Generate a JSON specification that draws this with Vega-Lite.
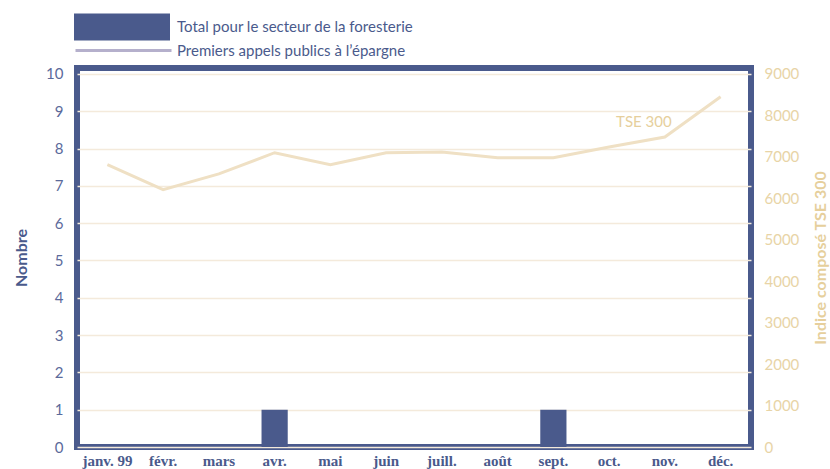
{
  "$schema": "https://vega.github.io/schema/vega-lite/v6.json",
  "width": 674,
  "height": 379,
  "autosize": {"type": "none"},
  "padding": {"left": 77, "top": 68, "right": 79, "bottom": 22},
  "background": "#ffffff",
  "config": {
    "view": {"stroke": "#4a5a8c", "strokeWidth": 6},
    "font": "Lato",
    "axis": {"domain": false, "ticks": false, "labelFont": "Lato", "titleFont": "Lato"},
    "legend": {"labelFont": "Lato", "padding": 0, "labelLimit": 500}
  },
  "data": {
    "values": [
      {"month": "janv. 99", "count": 0, "ipo": 0, "tse": 6810},
      {"month": "févr.", "count": 0, "ipo": 0, "tse": 6210},
      {"month": "mars", "count": 0, "ipo": 0, "tse": 6590},
      {"month": "avr.", "count": 1, "ipo": 0, "tse": 7100},
      {"month": "mai", "count": 0, "ipo": 0, "tse": 6810},
      {"month": "juin", "count": 0, "ipo": 0, "tse": 7100},
      {"month": "juill.", "count": 0, "ipo": 0, "tse": 7120},
      {"month": "août", "count": 0, "ipo": 0, "tse": 6980},
      {"month": "sept.", "count": 1, "ipo": 0, "tse": 6980},
      {"month": "oct.", "count": 0, "ipo": 0, "tse": 7240},
      {"month": "nov.", "count": 0, "ipo": 0, "tse": 7480},
      {"month": "déc.", "count": 0, "ipo": 0, "tse": 8450}
    ]
  },
  "encoding": {
    "x": {
      "field": "month", "type": "ordinal", "sort": null,
      "scale": {"paddingInner": 0.53, "paddingOuter": 0.31},
      "axis": {
        "title": null, "labelAngle": 0, "labelFont": "Liberation Sans Narrow",
        "labelFontWeight": "bold", "labelFontSize": 15, "labelColor": "#4a5a8c",
        "labelPadding": 6, "grid": false
      }
    }
  },
  "layer": [
    {
      "layer": [
        {
          "mark": {"type": "bar"},
          "encoding": {
            "y": {
              "field": "count", "type": "quantitative",
              "scale": {"domain": [0, 10.16], "nice": false},
              "axis": {
                "title": "Nombre", "values": [0,1,2,3,4,5,6,7,8,9,10],
                "labelColor": "#5b6a9b", "labelFontSize": 15, "labelPadding": 14,
                "titleColor": "#4a5a8c", "titleFontSize": 16, "titleFontWeight": "bold",
                "titlePadding": 16, "grid": true, "gridColor": "#f4eadb", "gridWidth": 1.5
              }
            },
            "fill": {
              "datum": "Total pour le secteur de la foresterie",
              "scale": {"range": ["#4a5a8c"]},
              "legend": {
                "title": null, "orient": "none", "legendX": -3, "legendY": -89,
                "symbolType": "M-1,-0.28H1V0.28H-1Z", "symbolSize": 9216,
                "symbolStrokeWidth": 0, "labelFontSize": 15, "labelColor": "#4a5a8c",
                "labelOffset": 7
              }
            }
          }
        },
        {
          "mark": {"type": "line", "opacity": 0, "strokeWidth": 3},
          "encoding": {
            "x": {"field": "month", "type": "ordinal", "sort": null, "bandPosition": 0.5},
            "y": {
              "field": "ipo", "type": "quantitative",
              "scale": {"domain": [0, 10.16], "nice": false},
              "axis": {
                "title": "Nombre", "values": [0,1,2,3,4,5,6,7,8,9,10],
                "labelColor": "#5b6a9b", "labelFontSize": 15, "labelPadding": 14,
                "titleColor": "#4a5a8c", "titleFontSize": 16, "titleFontWeight": "bold",
                "titlePadding": 16, "grid": true, "gridColor": "#f4eadb", "gridWidth": 1.5
              }
            },
            "stroke": {
              "datum": "Premiers appels publics à l’épargne",
              "scale": {"range": ["#b5b0cc"]},
              "legend": {
                "title": null, "orient": "none", "legendX": -3, "legendY": -67,
                "symbolType": "stroke", "symbolSize": 9216, "symbolStrokeWidth": 3,
                "symbolOpacity": 1, "labelFontSize": 15, "labelColor": "#4a5a8c",
                "labelOffset": 4
              }
            }
          }
        }
      ]
    },
    {
      "layer": [
        {
          "mark": {"type": "line", "color": "#efe0c4", "strokeWidth": 3},
          "encoding": {
            "x": {"field": "month", "type": "ordinal", "sort": null, "bandPosition": 0.5},
            "y": {
              "field": "tse", "type": "quantitative",
              "scale": {"domain": [0, 9144], "nice": false},
              "axis": {
                "orient": "right", "title": "Indice composé TSE 300",
                "values": [0,1000,2000,3000,4000,5000,6000,7000,8000,9000],
                "format": "d",
                "labelColor": "#e8d4a6", "labelFontSize": 15, "labelPadding": 13,
                "titleColor": "#e6cf9c", "titleFontSize": 16, "titleFontWeight": "bold",
                "titleAngle": 270, "titleBaseline": "bottom", "titlePadding": 30, "grid": false
              }
            }
          }
        },
        {
          "data": {"values": [{"month": "nov.", "tse": 7840, "label": "TSE 300"}]},
          "mark": {"type": "text", "color": "#e6cf9c", "fontSize": 15, "dx": -21, "baseline": "middle"},
          "encoding": {
            "x": {"field": "month", "type": "ordinal", "sort": null, "bandPosition": 0.5},
            "y": {"field": "tse", "type": "quantitative"},
            "text": {"field": "label"}
          }
        }
      ]
    }
  ],
  "resolve": {"scale": {"y": "independent"}}
}
